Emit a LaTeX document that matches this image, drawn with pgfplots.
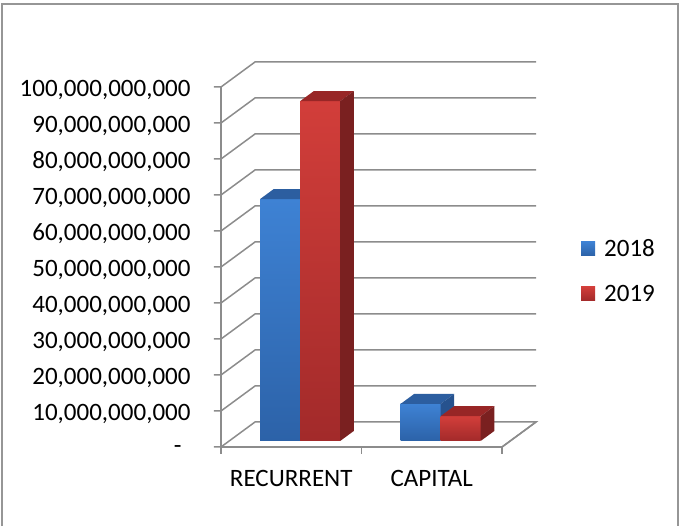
\documentclass[border=0pt]{standalone}
\usepackage{pgfplots}
\pgfplotsset{compat=1.18}
\usepackage{fontspec}
\setmainfont{Carlito}
\definecolor{gridgray}{RGB}{140,140,140}
\definecolor{framegray}{RGB}{150,150,150}
\definecolor{blueFT}{RGB}{62,130,212}
\definecolor{blueFB}{RGB}{44,98,168}
\definecolor{blueTop}{RGB}{44,94,160}
\definecolor{blueSide}{RGB}{38,82,142}
\definecolor{redFT}{RGB}{210,62,58}
\definecolor{redFB}{RGB}{162,42,42}
\definecolor{redTop}{RGB}{152,38,38}
\definecolor{redSide}{RGB}{122,32,32}
\begin{document}
\begin{tikzpicture}
\path (0,0) rectangle (679pt,526pt);
\draw[framegray, line width=1.5pt] (2pt,0pt) -- (2pt,522pt) -- (678pt,522pt) -- (678pt,0pt);
\begin{axis}[
  anchor=origin, at={(221pt,79pt)},
  x={(140.5pt,0pt)}, y={(34pt,25pt)}, z={(0pt,3.6pt)},
  xmin=0, xmax=2, ymin=0, ymax=1, zmin=0, zmax=100,
  clip=false,
  axis lines=left,
  axis line style={-, draw=gridgray, line width=1.5pt},
  major tick length=0pt,
  ytick=\empty,
  xtick={0,1,2}, xticklabels={RECURRENT,CAPITAL,},
  x tick label as interval,
  ztick={0,10,20,30,40,50,60,70,80,90,100},
  zticklabels={{-\kern9pt},{10,000,000,000},{20,000,000,000},{30,000,000,000},{40,000,000,000},{50,000,000,000},{60,000,000,000},{70,000,000,000},{80,000,000,000},{90,000,000,000},{100,000,000,000}},
  tick label style={font=\fontsize{25}{30}\selectfont, text=black},
  zticklabel style={anchor=east, xshift=-27pt, yshift=-3pt},
  xticklabel style={anchor=north, yshift=-20pt},
  legend style={at={(axis cs:2.562,0,48.9)}, anchor=west, draw=none, fill=none,
    font=\fontsize{25}{30}\selectfont, row sep=23pt, column sep=7pt, inner sep=0pt},
  legend cell align=left,
  legend image code/.code={\fill[#1] (0pt,-7pt) rectangle (14pt,7pt);},
]
% back wall / side wall gridlines, with the value axis ticks
\addplot3[gridgray, line width=1.5pt, forget plot] coordinates {(-0.05,0,0) (0,0,0) (0,1,0) (2,1,0) (2,0,0)};
\addplot3[gridgray, line width=1.5pt, forget plot] coordinates {(-0.05,0,10) (0,0,10) (0,1,10) (2,1,10)};
\addplot3[gridgray, line width=1.5pt, forget plot] coordinates {(-0.05,0,20) (0,0,20) (0,1,20) (2,1,20)};
\addplot3[gridgray, line width=1.5pt, forget plot] coordinates {(-0.05,0,30) (0,0,30) (0,1,30) (2,1,30)};
\addplot3[gridgray, line width=1.5pt, forget plot] coordinates {(-0.05,0,40) (0,0,40) (0,1,40) (2,1,40)};
\addplot3[gridgray, line width=1.5pt, forget plot] coordinates {(-0.05,0,50) (0,0,50) (0,1,50) (2,1,50)};
\addplot3[gridgray, line width=1.5pt, forget plot] coordinates {(-0.05,0,60) (0,0,60) (0,1,60) (2,1,60)};
\addplot3[gridgray, line width=1.5pt, forget plot] coordinates {(-0.05,0,70) (0,0,70) (0,1,70) (2,1,70)};
\addplot3[gridgray, line width=1.5pt, forget plot] coordinates {(-0.05,0,80) (0,0,80) (0,1,80) (2,1,80)};
\addplot3[gridgray, line width=1.5pt, forget plot] coordinates {(-0.05,0,90) (0,0,90) (0,1,90) (2,1,90)};
\addplot3[gridgray, line width=1.5pt, forget plot] coordinates {(-0.05,0,100) (0,0,100) (0,1,100) (2,1,100)};
% category axis ticks
\addplot3[gridgray, line width=1.5pt, forget plot] coordinates {(0,0,0) (0,0,-1.94)};
\addplot3[gridgray, line width=1.5pt, forget plot] coordinates {(1,0,0) (1,0,-1.94)};
\addplot3[gridgray, line width=1.5pt, forget plot] coordinates {(2,0,0) (2,0,-1.94)};
% RECURRENT 2018 (67.2 bn)
\addplot3[draw=none, shade, top color=blueFT, bottom color=blueFB] coordinates {(0.22,0.24,0) (0.505,0.24,0) (0.505,0.24,67.2) (0.22,0.24,67.2)} -- cycle;
\addlegendentry{2018}
\addplot3[draw=none, fill=blueTop, forget plot] coordinates {(0.22,0.24,67.2) (0.505,0.24,67.2) (0.505,0.64,67.2) (0.22,0.64,67.2)} -- cycle;
\addplot3[draw=none, fill=blueSide, forget plot] coordinates {(0.505,0.24,0) (0.505,0.64,0) (0.505,0.64,67.2) (0.505,0.24,67.2)} -- cycle;
% RECURRENT 2019 (94.4 bn)
\addplot3[draw=none, shade, top color=redFT, bottom color=redFB] coordinates {(0.505,0.24,0) (0.79,0.24,0) (0.79,0.24,94.4) (0.505,0.24,94.4)} -- cycle;
\addlegendentry{2019}
\addplot3[draw=none, fill=redTop, forget plot] coordinates {(0.505,0.24,94.4) (0.79,0.24,94.4) (0.79,0.64,94.4) (0.505,0.64,94.4)} -- cycle;
\addplot3[draw=none, fill=redSide, forget plot] coordinates {(0.79,0.24,0) (0.79,0.64,0) (0.79,0.64,94.4) (0.79,0.24,94.4)} -- cycle;
% CAPITAL 2018 (10.3 bn)
\addplot3[draw=none, shade, top color=blueFT, bottom color=blueFB, forget plot] coordinates {(1.22,0.24,0) (1.505,0.24,0) (1.505,0.24,10.3) (1.22,0.24,10.3)} -- cycle;
\addplot3[draw=none, fill=blueTop, forget plot] coordinates {(1.22,0.24,10.3) (1.505,0.24,10.3) (1.505,0.64,10.3) (1.22,0.64,10.3)} -- cycle;
\addplot3[draw=none, fill=blueSide, forget plot] coordinates {(1.505,0.24,0) (1.505,0.64,0) (1.505,0.64,10.3) (1.505,0.24,10.3)} -- cycle;
% CAPITAL 2019 (6.9 bn)
\addplot3[draw=none, shade, top color=redFT, bottom color=redFB, forget plot] coordinates {(1.505,0.24,0) (1.79,0.24,0) (1.79,0.24,6.9) (1.505,0.24,6.9)} -- cycle;
\addplot3[draw=none, fill=redTop, forget plot] coordinates {(1.505,0.24,6.9) (1.79,0.24,6.9) (1.79,0.64,6.9) (1.505,0.64,6.9)} -- cycle;
\addplot3[draw=none, fill=redSide, forget plot] coordinates {(1.79,0.24,0) (1.79,0.64,0) (1.79,0.64,6.9) (1.79,0.24,6.9)} -- cycle;
\end{axis}
\end{tikzpicture}
\end{document}
